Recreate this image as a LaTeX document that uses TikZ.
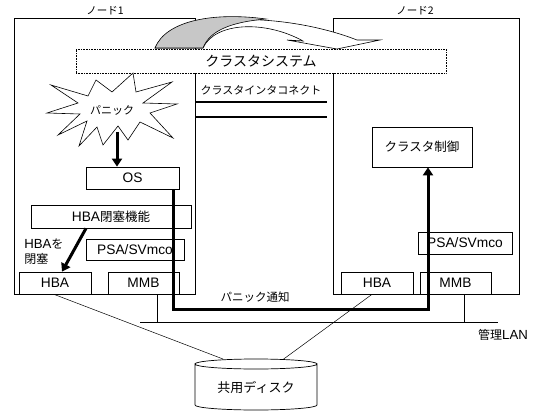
\documentclass[tikz,border=0pt]{standalone}
\usepackage{fontspec}
\setmainfont{Noto Sans CJK JP}
\newfontfamily\lat[Scale=1.1]{Liberation Sans}
\usetikzlibrary{arrows.meta,calc}
\newcommand\fs[1]{\fontsize{#1}{#1}\selectfont}
\begin{document}
\begin{tikzpicture}[x=1pt,y=-1pt,line width=0.7pt,
  bx/.style={draw,fill=white,inner sep=0pt,font=\fs{12.5}},
  lbl/.style={inner sep=0pt,font=\fs{12}},
  fat/.style={line width=3pt},
  head/.style={-{Triangle[length=8pt,width=10pt]}},
  thin/.style={line width=0.5pt}]
\useasboundingbox (0,0) rectangle (540,414);
% node frames
\node[draw,inner sep=0pt,minimum width=181pt,minimum height=276pt] (n1) at (104.5,156) {};
\node[draw,inner sep=0pt,minimum width=186pt,minimum height=276pt] (n2) at (426,156) {};
\node[lbl,font=\fs{10.5}] (l1) at (105,11) {ノード1};
\node[lbl,font=\fs{10.5}] (l2) at (415,11) {ノード2};
% cluster system
\node[draw,densely dotted,line width=0.6pt,fill=white,inner sep=0pt,minimum width=370pt,minimum height=24pt,font=\fs{14}] (cs) at (261,61) {クラスタシステム};
% curved arrow
\draw[fill=white,line width=0.6pt] (155,48) .. controls (170,13) and (280,10) .. (357,40) -- (380,40) -- (337,49) -- (287,40) -- (303,41) .. controls (265,20) and (215,22) .. (203,48) -- cycle;
\draw[fill=black!22,line width=0.6pt] (155,48) .. controls (166,20) and (215,12) .. (266,19) .. controls (232,22) and (210,30) .. (203,48) -- cycle;
% interconnect
\coordinate (ia1) at (195,102); \coordinate (ia2) at (327,102);
\coordinate (ib1) at (195,117); \coordinate (ib2) at (327,117);
\draw[line width=1.1pt] (ia1) -- (ia2);
\draw[line width=1.1pt] (ib1) -- (ib2);
\node[lbl,font=\fs{11}] (ic) at (261,90) {クラスタインタコネクト};
% panic burst
\draw[fill=white,line width=0.6pt] (133,73) -- (136,92) -- (172,82) -- (143,103) -- (177,104) -- (150,113) -- (173,138) -- (140,122) -- (128,140) -- (118,126) -- (103,145) -- (97,127) -- (79,146) -- (87,121) -- (58,135) -- (80,114) -- (47,113) -- (78,103) -- (51,85) -- (88,96) -- (96,80) -- (112,92) -- cycle;
\node[lbl,font=\fs{11}] (pn) at (112,110) {パニック};
% boxes in node 1
\node[bx,minimum width=93pt,minimum height=22pt] (os) at (132.5,178) {\lat OS};
\node[bx,minimum width=160pt,minimum height=23pt] (blk) at (111,216.5) {{\lat HBA}閉塞機能};
\node[bx,minimum width=98pt,minimum height=21pt] (psa1) at (135,249.5) {\lat PSA/SVmco};
\node[bx,minimum width=72pt,minimum height=22pt] (hba1) at (55,283) {\lat HBA};
\node[bx,minimum width=71pt,minimum height=22pt] (mmb1) at (143.5,283) {\lat MMB};
\node[lbl,align=left,font=\fs{12},anchor=west] (hbt) at (24,252) {{\lat HBA}を\\[3pt]閉塞};
% boxes in node 2
\node[bx,minimum width=100pt,minimum height=40pt] (ctrl) at (422,147) {クラスタ制御};
\node[bx,minimum width=94pt,minimum height=22pt] (psa2) at (465,243) {\lat PSA/SVmco};
\node[bx,minimum width=72pt,minimum height=22pt] (hba2) at (377,283) {\lat HBA};
\node[bx,minimum width=71pt,minimum height=22pt] (mmb2) at (455.5,283) {\lat MMB};
% arrows
\coordinate (pb) at (117,132);
\draw[fat,head] (pb) -- (pb |- os.north);
\draw[fat,head] ([xshift=-25pt]blk.south) -- ([xshift=7pt]hba1.north);
\coordinate (bend) at (428,309);
\draw[fat,head] ([xshift=-6pt]os.south east) |- (bend) -- (bend |- ctrl.south);
\node[lbl,font=\fs{11.5}] (pt) at (255,297) {パニック通知};
% LAN
\coordinate (lanL) at (140,322); \coordinate (lanR) at (498,322);
\draw (lanL) -- (lanR);
\draw ([xshift=13.5pt]mmb1.south) -- ([xshift=13.5pt]mmb1.south |- lanL);
\draw ([xshift=8.5pt]mmb2.south) -- ([xshift=8.5pt]mmb2.south |- lanL);
\node[lbl,font=\fs{12}] (lan) at (503,335) {管理{\lat LAN}};
% disk
\draw[fill=white] (195,364) arc[start angle=180,end angle=360,x radius=61,y radius=-5] -- (317,405) arc[start angle=0,end angle=-180,x radius=61,y radius=-5] -- cycle;
\draw (195,364) arc[start angle=180,end angle=0,x radius=61,y radius=-5];
\node[lbl,font=\fs{13}] (disk) at (256,388) {共用ディスク};
\coordinate (d1) at (223,359); \coordinate (d2) at (283,359.5);
\draw[thin] ([xshift=-1pt]hba1.south) -- (d1);
\draw[thin] ([xshift=-5pt]hba2.south) -- (d2);
\end{tikzpicture}
\end{document}
